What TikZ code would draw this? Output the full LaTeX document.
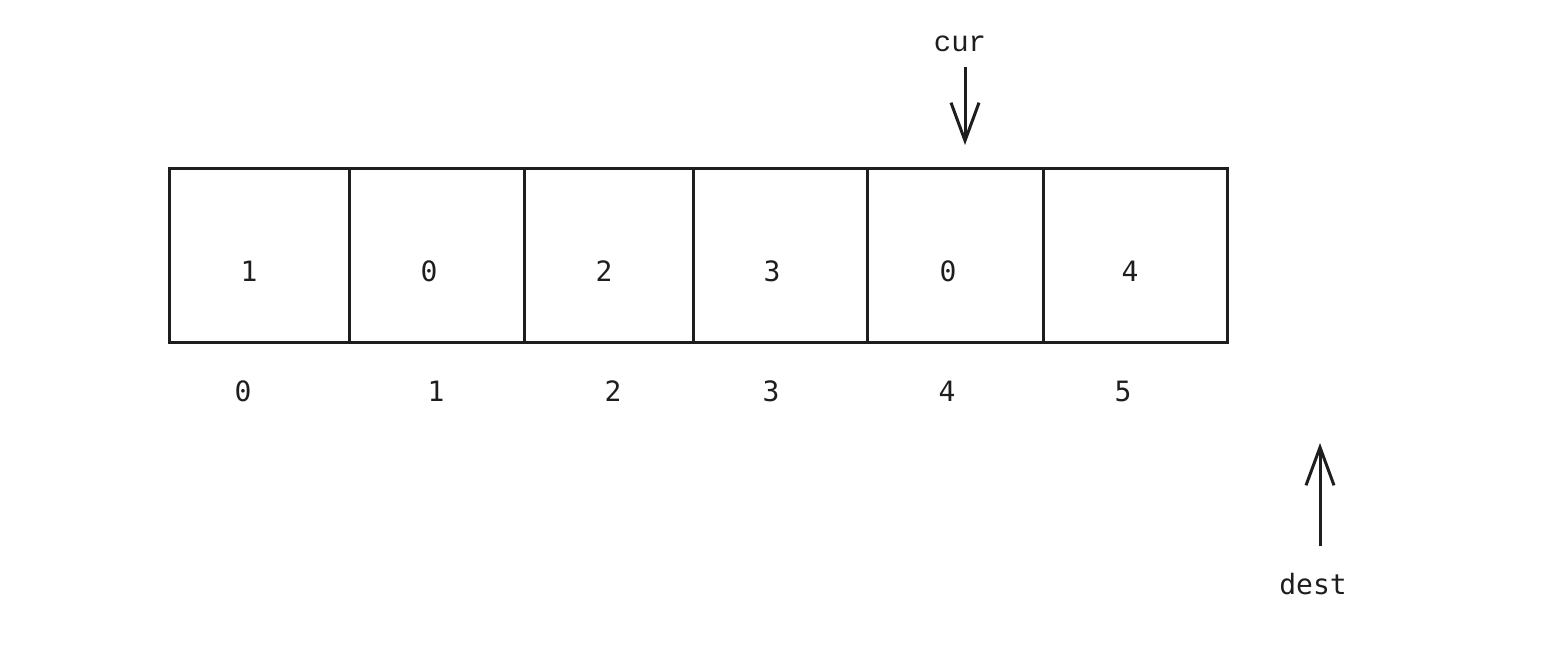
\documentclass[tikz,border=0pt]{standalone}
\usepackage{fontspec}
\setmonofont{DejaVu Sans Mono}
\newfontfamily\curfont{Liberation Mono}
\usetikzlibrary{arrows.meta}
\definecolor{ink}{HTML}{1E1E1E}
\begin{document}
\begin{tikzpicture}[x=1pt,y=-1pt,
  cell/.style={draw=ink,line width=3pt,minimum height=174pt,inner sep=0pt,outer sep=0pt,anchor=north west},
  val/.style={font=\fontsize{28}{30}\selectfont\ttfamily,text=ink,inner sep=0pt},
  lbl/.style={font=\fontsize{28}{30}\selectfont\ttfamily,text=ink,inner sep=0pt},
  ptr/.style={draw=ink,line width=3pt,-{Straight Barb[length=38pt,width=28pt,line width=3pt]}}]
\useasboundingbox (0,0) rectangle (1560,651);
% cells
\node[cell,minimum width=180pt] (c0) at (169,168) {};
\node[cell,minimum width=175pt] (c1) at (349,168) {};
\node[cell,minimum width=169pt] (c2) at (524,168) {};
\node[cell,minimum width=174pt] (c3) at (693,168) {};
\node[cell,minimum width=176pt] (c4) at (867,168) {};
\node[cell,minimum width=184pt] (c5) at (1043,168) {};
% values
\node[val] (v0) at (249,271) {1};
\node[val] (v1) at (429,271) {0};
\node[val] (v2) at (604,271) {2};
\node[val] (v3) at (772,271) {3};
\node[val] (v4) at (948,271) {0};
\node[val] (v5) at (1130,271) {4};
% indices
\node[val] (i0) at (243,391) {0};
\node[val] (i1) at (436,391) {1};
\node[val] (i2) at (613,391) {2};
\node[val] (i3) at (771,391) {3};
\node[val] (i4) at (947,391) {4};
\node[val] (i5) at (1123,391) {5};
% pointers
\node[lbl,font=\fontsize{29}{30}\selectfont\curfont] (cur) at (960,44) {cur};
\coordinate (curtail) at (965,67);
\coordinate (curtip) at (965,145);
\draw[ptr] (curtail) -- (curtip);
\node[lbl] (dest) at (1313,584) {dest};
\coordinate (desttail) at (1320,546);
\coordinate (desttip) at (1320,443);
\draw[ptr] (desttail) -- (desttip);
\end{tikzpicture}
\end{document}
